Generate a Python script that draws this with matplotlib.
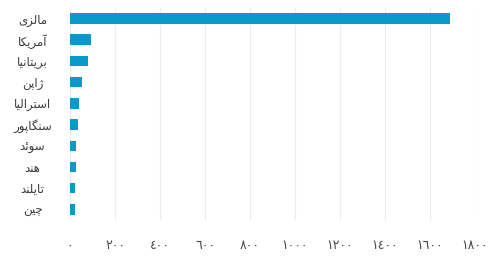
import matplotlib
matplotlib.use("Agg")
import matplotlib.pyplot as plt

# countries, top to bottom
countries = ["مالزی", "آمریکا", "بریتانیا", "ژاپن", "استرالیا",
             "سنگاپور", "سوئد", "هند", "تایلند", "چین"]
values = [1690, 95, 80, 53, 40, 36, 28, 27, 22, 22]
xticks = [0, 200, 400, 600, 800, 1000, 1200, 1400, 1600, 1800]

# matplotlib has no arabic shaping, so map letters to presentation forms by hand
FORMS = {
    # char: (isolated, final, initial, medial) ; None = right-joining only
    "ا": ("\uFE8D", "\uFE8E", None, None),
    "آ": ("\uFE81", "\uFE82", None, None),
    "د": ("\uFEA9", "\uFEAA", None, None),
    "ر": ("\uFEAD", "\uFEAE", None, None),
    "ز": ("\uFEAF", "\uFEB0", None, None),
    "ژ": ("\uFB8A", "\uFB8B", None, None),
    "و": ("\uFEED", "\uFEEE", None, None),
    "ب": ("\uFE8F", "\uFE90", "\uFE91", "\uFE92"),
    "پ": ("\uFB56", "\uFB57", "\uFB58", "\uFB59"),
    "ت": ("\uFE95", "\uFE96", "\uFE97", "\uFE98"),
    "چ": ("\uFB7A", "\uFB7B", "\uFB7C", "\uFB7D"),
    "س": ("\uFEB1", "\uFEB2", "\uFEB3", "\uFEB4"),
    "ک": ("\uFB8E", "\uFB8F", "\uFB90", "\uFB91"),
    "گ": ("\uFB92", "\uFB93", "\uFB94", "\uFB95"),
    "ل": ("\uFEDD", "\uFEDE", "\uFEDF", "\uFEE0"),
    "م": ("\uFEE1", "\uFEE2", "\uFEE3", "\uFEE4"),
    "ن": ("\uFEE5", "\uFEE6", "\uFEE7", "\uFEE8"),
    "ه": ("\uFEE9", "\uFEEA", "\uFEEB", "\uFEEC"),
    "ی": ("\uFBFC", "\uFBFD", "\uFBFE", "\uFBFF"),
    "ئ": ("\uFE89", "\uFE8A", "\uFE8B", "\uFE8C"),
}


def dual(c):
    return c in FORMS and FORMS[c][2] is not None


def shape(word):
    out = []
    for i, c in enumerate(word):
        if c not in FORMS:
            out.append(c)
            continue
        prev = i > 0 and dual(word[i - 1])
        nxt = dual(c) and i + 1 < len(word) and word[i + 1] in FORMS
        iso, fin, ini, med = FORMS[c]
        if prev and nxt:
            out.append(med)
        elif prev:
            out.append(fin)
        elif nxt:
            out.append(ini)
        else:
            out.append(iso)
    return "".join(out)[::-1]


def arabic_digits(n):
    return "".join(chr(0x0660 + int(d)) for d in str(n))


fig = plt.figure(figsize=(5.01, 2.57), dpi=100)
ax = fig.add_axes([70 / 501, 1 - 220 / 257, 405 / 501, 212 / 257])

y = list(range(len(countries)))
ax.barh(y, values, height=0.5, color="#0b98cb", zorder=3)
ax.set_ylim(len(countries) - 0.5, -0.5)
ax.set_xlim(0, 1800)

ax.set_yticks(y)
ax.set_yticklabels([shape(c) for c in countries], fontsize=8.5, color="#3a3a3a",
                   family="DejaVu Sans", ha="center")
ax.set_xticks(xticks)
ax.set_xticklabels([arabic_digits(v) for v in xticks], fontsize=9, color="#4a4a4a")

ax.tick_params(axis="y", length=0, pad=27)
ax.tick_params(axis="x", length=0, pad=14)
ax.grid(axis="x", color="#ebebeb", linewidth=0.8, zorder=0)
for s in ax.spines.values():
    s.set_visible(False)

fig.savefig("out.png", dpi=100)
